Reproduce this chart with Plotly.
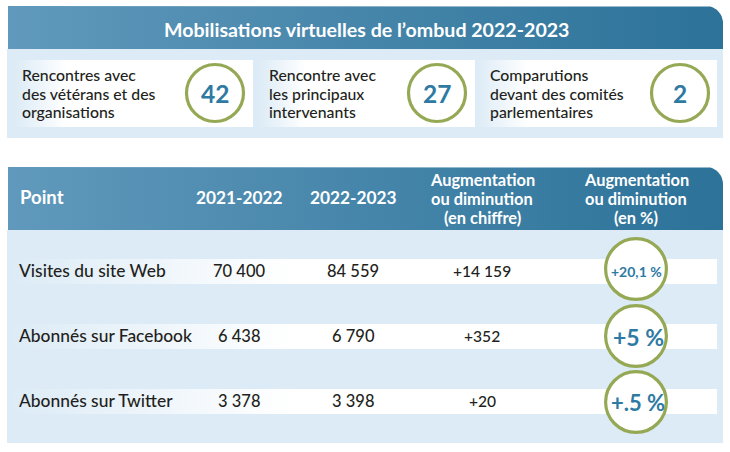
import math
import plotly.graph_objects as go

# ---- content ----
title = "Mobilisations virtuelles de l’ombud 2022-2023"
engagement_labels = [["Rencontres avec", "des vétérans et des", "organisations"],
                     ["Rencontre avec", "les principaux", "intervenants"],
                     ["Comparutions", "devant des comités", "parlementaires"]]
engagement_values = ["42", "27", "2"]
table_headers = ["Point", "2021-2022", "2022-2023"]
change_headers = [["Augmentation", "ou diminution", "(en chiffre)"],
                  ["Augmentation", "ou diminution", "(en %)"]]
row_names = ["Visites du site Web", "Abonnés sur Facebook", "Abonnés sur Twitter"]
values_2021 = ["70 400", "6 438", "3 378"]
values_2022 = ["84 559", "6 790", "3 398"]
change_abs = ["+14 159", "+352", "+20"]
change_pct = ["+20,1 %", "+5 %", "+.5 %"]

# ---- style / layout constants ----
FONT = "Lato"
DARK = "#231f20"
BLUE = "#2e7aa3"
GREEN = "#95a955"
PALE = "#dcebf6"
HEAD_SCALE = [[0, "#6099bb"], [1, "#2c7299"]]
W, H = 730, 452

fig = go.Figure()


def rounded_header(x0, x1, y0, y1, r=17):
    xs, ys = [x0, x1 - r], [y0, y0]
    for i in range(1, 13):
        a = math.pi / 2 * i / 12
        xs.append(x1 - r + r * math.sin(a))
        ys.append(y0 + r - r * math.cos(a))
    xs += [x1, x0, x0]
    ys += [y1, y1, y0]
    return xs, ys


def grad_rect(x0, x1, y0, y1, scale):
    fig.add_trace(go.Scatter(x=[x0, x1, x1, x0, x0], y=[y0, y0, y1, y1, y0], mode="lines",
                             line=dict(width=0), fill="toself", hoverinfo="skip",
                             fillgradient=dict(type="horizontal", colorscale=scale,
                                               start=x0, stop=x1)))


def header(x0, x1, y0, y1):
    xs, ys = rounded_header(x0, x1, y0, y1)
    fig.add_trace(go.Scatter(x=xs, y=ys, mode="lines", line=dict(width=0), fill="toself",
                             hoverinfo="skip",
                             fillgradient=dict(type="horizontal", colorscale=HEAD_SCALE,
                                               start=x0, stop=x1)))


def text(x, y, s, size, color=DARK, bold=False, anchor="center"):
    fig.add_annotation(x=x, y=y, text=s, showarrow=False, xref="x", yref="y",
                       xanchor=anchor, yanchor="middle", align=anchor,
                       font=dict(family=FONT, size=size, color=color,
                                 weight=700 if bold else 500))


def ring(cx, cy, r, s, size, tx=None, ty=None):
    fig.add_shape(type="circle", x0=cx - r, x1=cx + r, y0=cy - r, y1=cy + r, layer="above",
                  fillcolor="white", line=dict(color=GREEN, width=3.2))
    text(cx if tx is None else tx, cy if ty is None else ty, s, size, BLUE, True)


# backgrounds
fig.add_shape(type="rect", x0=7, x1=723, y0=49, y1=138, fillcolor=PALE, line_width=0, layer="below")
fig.add_shape(type="rect", x0=7, x1=723, y0=230, y1=443, fillcolor=PALE, line_width=0, layer="below")
header(8, 723, 6, 49)
header(8, 723, 167, 230)
text(366, 29, title, 19.6, "white", True)

# top cards
card_spans = [(14, 253), (258, 475), (475, 717)]
card_text_x = [20, 267, 488]
circle_x = [215, 437, 680]
line_y = [74.5, 93, 111.5]
fade = [[0, PALE], [0.22, "#ffffff"], [1, "#ffffff"]]
for (a, b), tx, cx, lines, val in zip(card_spans, card_text_x, circle_x, engagement_labels, engagement_values):
    grad_rect(a, b, 60, 127, fade)
    for ly, ln in zip(line_y, lines):
        text(tx, ly, ln, 15.8, DARK, False, "left")
    ring(cx, 93, 28.5, val, 24.5)

# table
col_x = [18, 239, 353, 482, 636]
text(col_x[0], 197, table_headers[0], 18.5, "white", True, "left")
text(col_x[1], 197, table_headers[1], 17.3, "white", True)
text(col_x[2], 197, table_headers[2], 17.3, "white", True)
head_line_y = [179, 198, 217]
for x, lines in zip(col_x[3:], change_headers):
    for ly, ln in zip(head_line_y, lines):
        text(x, ly, ln, 16.4, "white", True)

row_y = [271.5, 336.5, 401.5]
ring_y = [269, 336, 402]
row_fade = [[0, PALE], [0.4, "#ffffff"], [1, "#ffffff"]]
pct_size = [14, 23, 22]
pct_x = [636, 638, 637.5]
pct_y = [271, 336.5, 402]
for i, y in enumerate(row_y):
    grad_rect(8, 717, y - 12.5, y + 12.5, row_fade)
    text(17, y - 1, row_names[i], 17.4, DARK, False, "left")
    text(col_x[1], y - 1, values_2021[i], 16.5)
    text(col_x[2], y - 1, values_2022[i], 16.5)
    text(col_x[3], y - 1, change_abs[i], 15.6)
    ring(col_x[4], ring_y[i], 30.4, change_pct[i], pct_size[i], pct_x[i], pct_y[i])

fig.update_layout(width=W, height=H, margin=dict(l=0, r=0, t=0, b=0), showlegend=False,
                  paper_bgcolor="white", plot_bgcolor="white",
                  xaxis=dict(range=[0, W], visible=False, fixedrange=True),
                  yaxis=dict(range=[H, 0], visible=False, fixedrange=True))
fig.write_html("out.html", config=dict(displayModeBar=False),
               post_script="document.body.style.margin='0';document.body.style.overflow='hidden';")
